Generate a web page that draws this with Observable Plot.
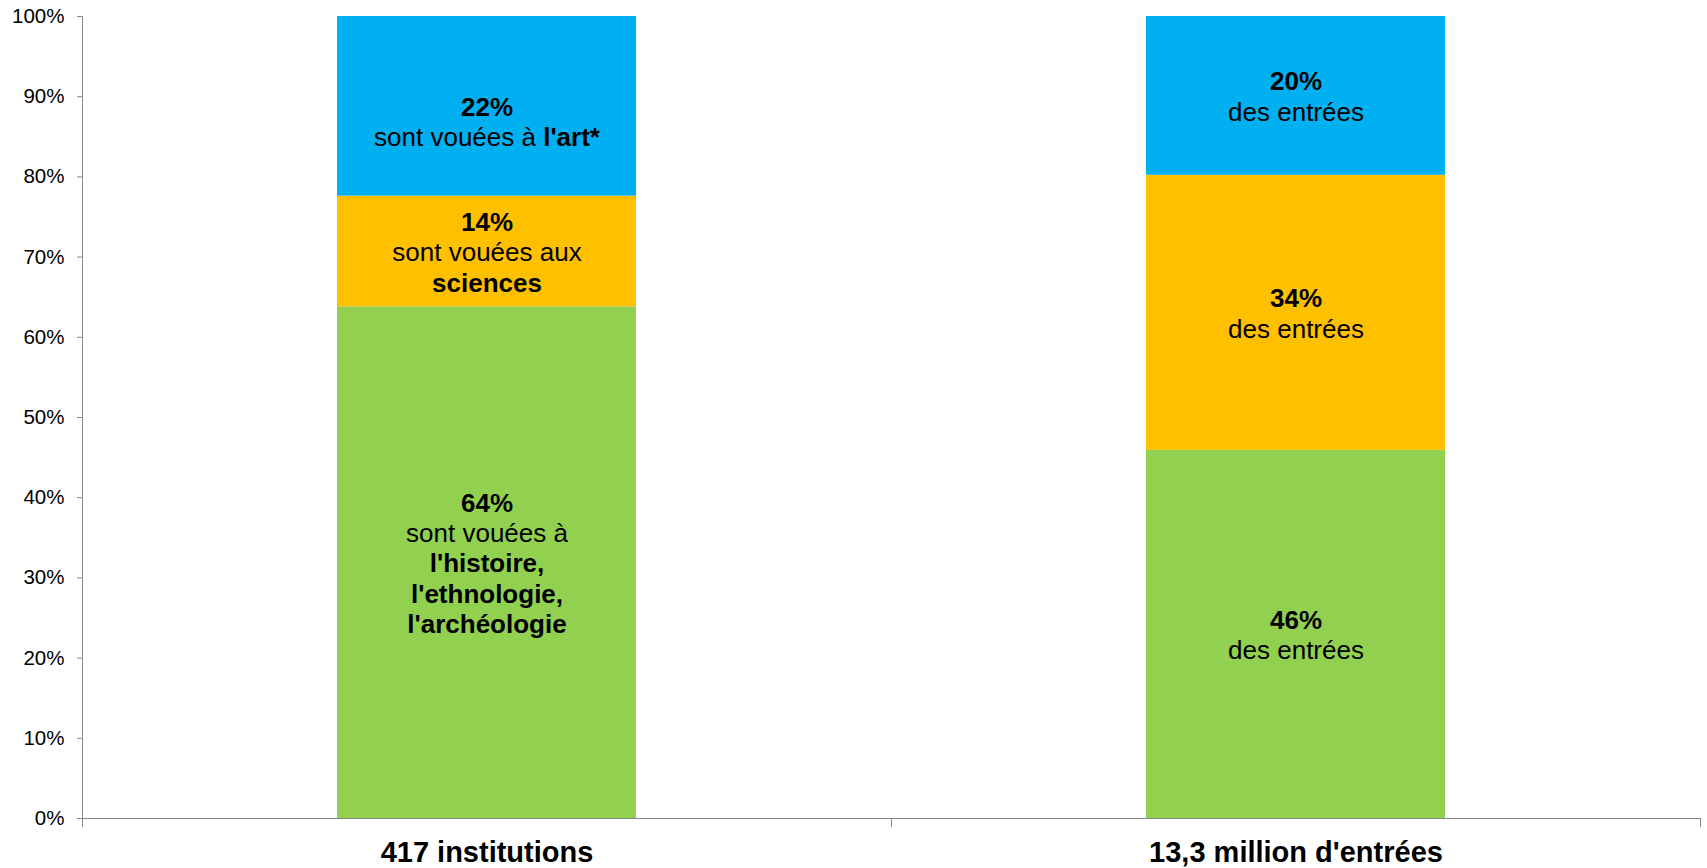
<!DOCTYPE html>
<html>
<head>
<meta charset="utf-8">
<script src="https://cdn.jsdelivr.net/npm/d3@7"></script>
<script src="https://cdn.jsdelivr.net/npm/@observablehq/plot@0.6"></script>
<style>
  html, body { margin: 0; padding: 0; background: #fff; }
  #chart svg { display: block; }
</style>
</head>
<body>
<div id="chart"></div>
<script>
// ---- Data ----
const categories = ["417 institutions", "13,3 million d'entrées"];
const domains = ["histoire", "sciences", "art"];
const domainColors = ["#92D050", "#FFC000", "#00B0F0"];
const institutionsShare = [63.8, 13.8, 22.4];
const entriesShare = [45.9, 34.3, 19.8];
// {…} marks bold text
const institutionsLabels = [
  "{64%}\nsont vouées à\n{l'histoire,}\n{l'ethnologie,}\n{l'archéologie}",
  "{14%}\nsont vouées aux\n{sciences}",
  "\n{22%}\nsont vouées à {l'art*}"
];
const entriesLabels = [
  "{46%}\ndes entrées",
  "{34%}\ndes entrées",
  "{20%}\ndes entrées"
];
const yTicks = [0, 10, 20, 30, 40, 50, 60, 70, 80, 90, 100];

// ---- Table built from arrays ----
const rows = [];
domains.forEach((d, i) => rows.push({category: categories[0], domain: d, share: institutionsShare[i], label: institutionsLabels[i]}));
domains.forEach((d, i) => rows.push({category: categories[1], domain: d, share: entriesShare[i], label: entriesLabels[i]}));

// ---- Layout ----
const W = 1707, H = 868;
const mL = 82, mR = 7, mT = 16, mB = 50;
const step = (W - mL - mR) / categories.length;
const axisGray = "#868686";
const font = "'Liberation Sans', Arial, Helvetica, sans-serif";

const chart = Plot.plot({
  width: W,
  height: H,
  marginLeft: mL,
  marginRight: mR,
  marginTop: mT,
  marginBottom: mB,
  style: {fontFamily: font, background: "#fff", color: "#000"},
  x: {domain: categories, paddingInner: 0.63, paddingOuter: 0.315, label: null},
  y: {domain: [0, 100], label: null},
  color: {domain: domains, range: domainColors},
  marks: [
    Plot.barY(rows, {x: "category", y: "share", fill: "domain"}),
    Plot.text(rows, Plot.stackY({x: "category", y: "share", z: "domain", text: "label",
      fontSize: 26, lineHeight: 1.17, fill: "#000", textAnchor: "middle"})),
    Plot.frame({anchor: "left", stroke: axisGray}),
    Plot.ruleY([0], {stroke: axisGray, strokeWidth: 1.2}),
    Plot.axisY(yTicks, {tickSize: 5, tickPadding: 13, fontSize: 20.5, stroke: axisGray, fill: "#000",
      tickFormat: d => d + "%", label: null}),
    // category labels
    Plot.axisX({tickSize: 0, tickPadding: 23, fontSize: 29, fontWeight: "bold", fill: "#000", label: null}),
    // boundary ticks (Excel style: between categories)
    Plot.axisX(categories, {tickSize: 9, text: null, dx: -step / 2, stroke: axisGray, label: null}),
    Plot.axisX(categories.slice(-1), {tickSize: 9, text: null, dx: step / 2, stroke: axisGray, label: null})
  ]
});

// Apply bold markup {…}
chart.querySelectorAll("text, tspan").forEach(el => {
  if (el.children.length) return;
  const s = el.textContent;
  if (!s.includes("{")) return;
  el.textContent = "";
  const parts = s.split(/\{([^}]*)\}/);
  parts.forEach((p, i) => {
    if (!p) return;
    const t = document.createElementNS("http://www.w3.org/2000/svg", "tspan");
    t.textContent = p;
    if (i % 2 === 1) t.setAttribute("font-weight", "bold");
    el.appendChild(t);
  });
});

document.getElementById("chart").appendChild(chart);
</script>
</body>
</html>
